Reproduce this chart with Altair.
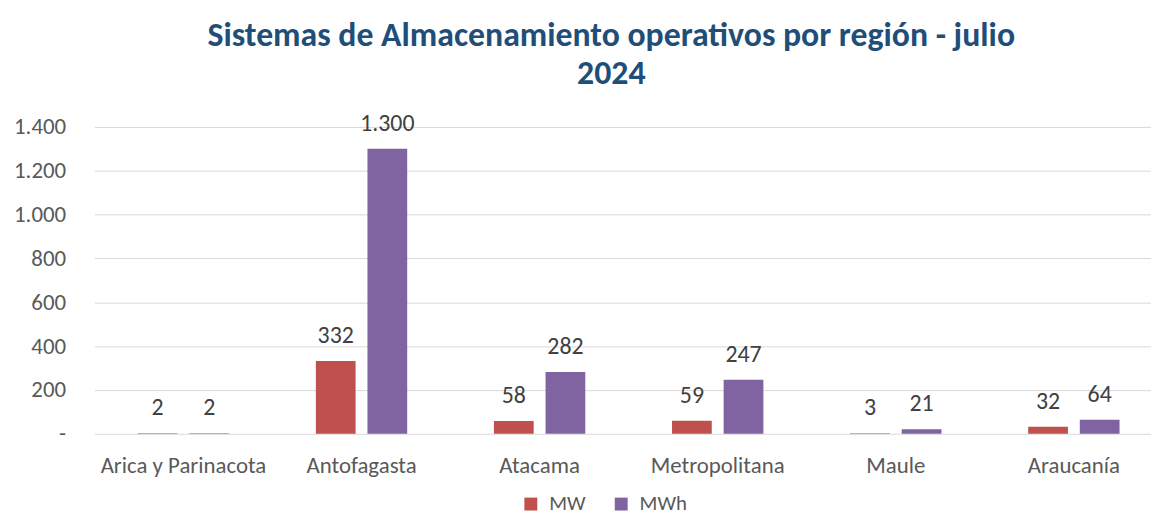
import altair as alt
import pandas as pd

regions = ["Arica y Parinacota", "Antofagasta", "Atacama", "Metropolitana", "Maule", "Araucanía"]
mw = [2, 332, 58, 59, 3, 32]
mwh = [2, 1300, 282, 247, 21, 64]
series = ["MW", "MWh"]
colors = ["#C0504D", "#8064A2"]
y_ticks = [0, 200, 400, 600, 800, 1000, 1200, 1400]

rows = []
for r, a, b in zip(regions, mw, mwh):
    rows.append({"region": r, "serie": "MW", "valor": a})
    rows.append({"region": r, "serie": "MWh", "valor": b})
df = pd.DataFrame(rows)

FONT = "Carlito, Lato, sans-serif"
LABEL_COLOR = "#595959"

x_enc = alt.X(
    "region:N",
    sort=regions,
    scale=alt.Scale(range=[0, 1076], paddingInner=0.487, paddingOuter=0.2435),
    axis=alt.Axis(
        title=None, labelAngle=0, labelFontSize=23, labelColor=LABEL_COLOR,
        labelFont=FONT, labelPadding=21, ticks=False, domain=False, grid=False,
    ),
)
xoff_enc = alt.XOffset("serie:N", sort=series, scale=alt.Scale(paddingInner=0.23, paddingOuter=0))
y_enc = alt.Y(
    "valor:Q",
    scale=alt.Scale(domain=[0, 1400]),
    axis=alt.Axis(
        title=None, values=y_ticks,
        labelExpr="datum.value == 0 ? '-' : replace(format(datum.value, ','), ',', '.')",
        labelFontSize=23, labelColor=LABEL_COLOR, labelFont=FONT, labelPadding=29,
        ticks=False, domain=False, gridColor="#D9D9D9", gridWidth=1,
    ),
)

base = alt.Chart(df)

bars = base.mark_bar().encode(
    x=x_enc,
    xOffset=xoff_enc,
    y=y_enc,
    color=alt.Color(
        "serie:N",
        scale=alt.Scale(domain=series, range=colors),
        legend=alt.Legend(
            title=None, orient="none", legendX=429, legendY=369, direction="horizontal",
            symbolType="square", symbolSize=169, symbolStrokeWidth=0,
            labelFontSize=21, labelColor=LABEL_COLOR, labelFont=FONT,
            columnPadding=25, labelOffset=8, padding=0,
        ),
    ),
)

labels = base.transform_calculate(
    lbl="replace(format(datum.valor, ','), ',', '.')"
).mark_text(baseline="middle", dy=-25, fontSize=24, color="#404040", font=FONT).encode(
    x=alt.X("region:N", sort=regions),
    xOffset=alt.XOffset("serie:N", sort=series),
    y=alt.Y("valor:Q"),
    text="lbl:N",
)

chart = (
    alt.layer(bars, labels)
    .properties(
        width=1063,
        height=309,
        title=alt.Title(
            ["Sistemas de Almacenamiento operativos por región - julio", "2024"],
            fontSize=34, font=FONT, fontWeight="bold", color="#1F4E79",
            anchor="middle", offset=21, lineHeight=39, dx=-11,
        ),
        padding={"left": 87, "top": 118, "right": 1, "bottom": 83},
        autosize=alt.AutoSizeParams(type="none"),
        background="white",
    )
    .configure_view(stroke=None)
)

chart.save("out.html", embed_options={"renderer": "svg", "actions": False})
